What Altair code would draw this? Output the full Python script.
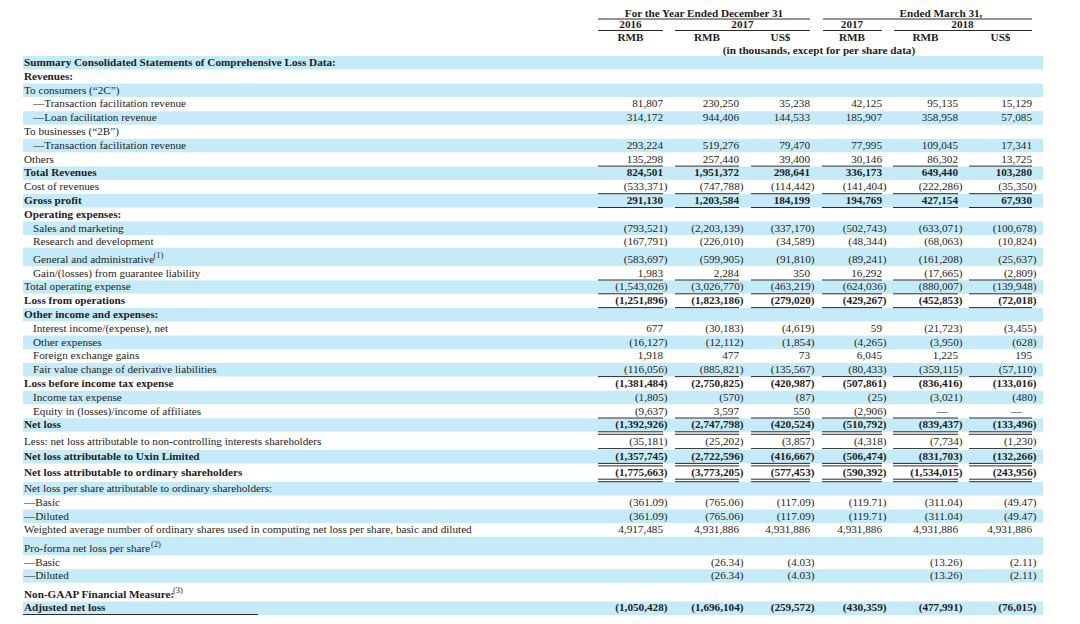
import altair as alt
import pandas as pd

# ---------------- data ----------------
LABELS = [
    "Summary Consolidated Statements of Comprehensive Loss Data:",
    "Revenues:",
    "To consumers (\u201c2C\u201d)",
    "\u2014Transaction facilitation revenue",
    "\u2014Loan facilitation revenue",
    "To businesses (\u201c2B\u201d)",
    "\u2014Transaction facilitation revenue",
    "Others",
    "Total Revenues",
    "Cost of revenues",
    "Gross profit",
    "Operating expenses:",
    "Sales and marketing",
    "Research and development",
    "General and administrative",
    "Gain/(losses) from guarantee liability",
    "Total operating expense",
    "Loss from operations",
    "Other income and expenses:",
    "Interest income/(expense), net",
    "Other expenses",
    "Foreign exchange gains",
    "Fair value change of derivative liabilities",
    "Loss before income tax expense",
    "Income tax expense",
    "Equity in (losses)/income of affiliates",
    "Net loss",
    "Less: net loss attributable to non-controlling interests shareholders",
    "Net loss attributable to Uxin Limited",
    "Net loss attributable to ordinary shareholders",
    "Net loss per share attributable to ordinary shareholders:",
    "\u2014Basic",
    "\u2014Diluted",
    "Weighted average number of ordinary shares used in computing net loss per share, basic and diluted",
    "Pro-forma net loss per share",
    "\u2014Basic",
    "\u2014Diluted",
    "Non-GAAP Financial Measure:",
    "Adjusted net loss",
]
# footnote markers attached to labels (1-based row number -> marker)
FOOTNOTES = {15: "(1)", 35: "(2)", 38: "(3)"}

INDENT = [0, 0, 0, 1, 1, 0, 1, 0, 0, 0, 0, 0, 1, 1, 1, 1, 0, 0, 0, 1, 1, 1, 1, 0, 1, 1, 0,
          0, 0, 0, 0, 0, 0, 0, 0, 0, 0, 0, 0]
BOLD_LABEL = [1, 1, 0, 0, 0, 0, 0, 0, 1, 0, 1, 1, 0, 0, 0, 0, 0, 1, 1, 0, 0, 0, 0, 1, 0, 0, 1,
              0, 1, 1, 0, 0, 0, 0, 0, 0, 0, 1, 1]
BOLD_NUM = [0, 0, 0, 0, 0, 0, 0, 0, 1, 0, 1, 0, 0, 0, 0, 0, 0, 1, 0, 0, 0, 0, 0, 1, 0, 0, 1,
            0, 1, 1, 0, 0, 0, 0, 0, 0, 0, 0, 1]

N = None
COL_2016_RMB = [N, N, N, 81807, 314172, N, 293224, 135298, 824501, -533371, 291130, N,
                -793521, -167791, -583697, 1983, -1543026, -1251896, N, 677, -16127, 1918,
                -116056, -1381484, -1805, -9637, -1392926, -35181, -1357745, -1775663, N,
                -361.09, -361.09, 4917485, N, N, N, N, -1050428]
COL_2017_RMB = [N, N, N, 230250, 944406, N, 519276, 257440, 1951372, -747788, 1203584, N,
                -2203139, -226010, -599905, 2284, -3026770, -1823186, N, -30183, -12112, 477,
                -885821, -2750825, -570, 3597, -2747798, -25202, -2722596, -3773205, N,
                -765.06, -765.06, 4931886, N, -26.34, -26.34, N, -1696104]
COL_2017_USD = [N, N, N, 35238, 144533, N, 79470, 39400, 298641, -114442, 184199, N,
                -337170, -34589, -91810, 350, -463219, -279020, N, -4619, -1854, 73,
                -135567, -420987, -87, 550, -420524, -3857, -416667, -577453, N,
                -117.09, -117.09, 4931886, N, -4.03, -4.03, N, -259572]
COL_MAR2017_RMB = [N, N, N, 42125, 185907, N, 77995, 30146, 336173, -141404, 194769, N,
                   -502743, -48344, -89241, 16292, -624036, -429267, N, 59, -4265, 6045,
                   -80433, -507861, -25, -2906, -510792, -4318, -506474, -590392, N,
                   -119.71, -119.71, 4931886, N, N, N, N, -430359]
COL_MAR2018_RMB = [N, N, N, 95135, 358958, N, 109045, 86302, 649440, -222286, 427154, N,
                   -633071, -68063, -161208, -17665, -880007, -452853, N, -21723, -3950, 1225,
                   -359115, -836416, -3021, 0, -839437, -7734, -831703, -1534015, N,
                   -311.04, -311.04, 4931886, N, -13.26, -13.26, N, -477991]
COL_MAR2018_USD = [N, N, N, 15129, 57085, N, 17341, 13725, 103280, -35350, 67930, N,
                   -100678, -10824, -25637, -2809, -139948, -72018, N, -3455, -628, 195,
                   -57110, -133016, -480, 0, -133496, -1230, -132266, -243956, N,
                   -49.47, -49.47, 4931886, N, -2.11, -2.11, N, -76015]
COLUMNS = [COL_2016_RMB, COL_2017_RMB, COL_2017_USD, COL_MAR2017_RMB, COL_MAR2018_RMB, COL_MAR2018_USD]

PERIOD_HEAD = ["For the Year Ended December 31", "Ended March 31,"]
YEAR_HEAD = ["2016", "2017", "2017", "2018"]
CURRENCY_HEAD = ["RMB", "RMB", "US$", "RMB", "RMB", "US$"]
UNIT_NOTE = "(in thousands, except for per share data)"

# rows with a rule under the figures: 1 = single, 2 = double (1-based row numbers)
RULE_UNDER = {8: 1, 10: 1, 11: 1, 16: 1, 17: 1, 18: 1, 23: 1, 26: 1, 27: 2, 28: 1, 29: 2, 30: 2}

# ---------------- layout ----------------
W, H = 1064, 608
M = 8
COL_LEFT = [598, 675, 751, 822, 893, 969]
COL_RIGHT = [663, 739, 810, 882, 958, 1032]
ROW0, STEP = 63, 13.8
EXTRA = {15: 3.5, 28: 3, 29: 1, 30: 2, 31: 2.5, 35: 4.5, 38: 4.5}
FOOTNOTE_X = {15: 153.5, 35: 151, 38: 173}
BAND = "#c6ebf8"
INK = "#1e1e1e"
FONT = "Liberation Serif"
FS = 11.2

ys = []
acc = 0.0
for i in range(len(LABELS)):
    acc += EXTRA.get(i + 1, 0)
    ys.append(ROW0 + STEP * i + acc)


def fmt(v):
    if v is None:
        return None
    if v == 0:
        return "\u2014"
    s = f"{abs(v):,.2f}" if isinstance(v, float) else f"{abs(v):,}"
    return f"({s})" if v < 0 else s


bands, labels, nums, rules, sups = [], [], [], [], []
for i, lab in enumerate(LABELS):
    y = ys[i]
    r = i + 1
    if r % 2 == 1:
        top = y - 7 - (5 if r in FOOTNOTES else 0)
        bands.append({"x": 23, "x2": 1043, "y": top, "y2": y + 6.5})
    labels.append({"x": 24 + 9 * INDENT[i], "y": y, "text": lab, "bold": BOLD_LABEL[i]})
    if r in FOOTNOTES:
        sups.append({"x": FOOTNOTE_X[r], "y": y - 5, "text": FOOTNOTES[r]})
    for c, col in enumerate(COLUMNS):
        t = fmt(col[i])
        if t is None:
            continue
        dx = 4.5 if t.endswith(")") else (-10 if t == "\u2014" else 0)
        nums.append({"x": COL_RIGHT[c] + dx, "y": y, "text": t, "bold": BOLD_NUM[i]})
    if r in RULE_UNDER:
        offs = [6.5] if RULE_UNDER[r] == 1 else [6.5, 9.0]
        for o in offs:
            for c in range(6):
                rules.append({"x": COL_LEFT[c], "x2": COL_RIGHT[c], "y": y + o})

# header
centers = [(l + r) / 2 for l, r in zip(COL_LEFT, COL_RIGHT)]
head = [
    {"x": 704, "y": 13.5, "text": PERIOD_HEAD[0]},
    {"x": 941, "y": 13.5, "text": PERIOD_HEAD[1]},
    {"x": centers[0], "y": 25, "text": YEAR_HEAD[0]},
    {"x": (COL_LEFT[1] + COL_RIGHT[2]) / 2, "y": 25, "text": YEAR_HEAD[1]},
    {"x": centers[3], "y": 25, "text": YEAR_HEAD[2]},
    {"x": (COL_LEFT[4] + COL_RIGHT[5]) / 2, "y": 25, "text": YEAR_HEAD[3]},
    {"x": 819, "y": 50.5, "text": UNIT_NOTE},
]
for c, cur in enumerate(CURRENCY_HEAD):
    head.append({"x": centers[c], "y": 38, "text": cur})
head_rules = [
    {"x": 598, "x2": 810, "y": 19},
    {"x": 823, "x2": 1032, "y": 19},
    {"x": 598, "x2": 663, "y": 30.5},
    {"x": 675, "x2": 810, "y": 30.5},
    {"x": 823, "x2": 882, "y": 30.5},
    {"x": 894, "x2": 1032, "y": 30.5},
    {"x": 23, "x2": 258, "y": 614.5},
]

XS = alt.Scale(domain=[M, M + W], nice=False, zero=False)
YS = alt.Scale(domain=[M, M + H], nice=False, zero=False, reverse=True)


def enc(extra=None):
    d = dict(x=alt.X("x:Q", scale=XS, axis=None), y=alt.Y("y:Q", scale=YS, axis=None))
    if extra:
        d.update(extra)
    return d


band_layer = alt.Chart(pd.DataFrame(bands)).mark_rect(color=BAND).encode(
    **enc({"x2": "x2:Q", "y2": "y2:Q"}))

lab_df = pd.DataFrame(labels)
lab_norm = alt.Chart(lab_df[lab_df.bold == 0]).mark_text(
    align="left", baseline="middle", font=FONT, fontSize=FS, color=INK).encode(**enc({"text": "text:N"}))
lab_bold = alt.Chart(lab_df[lab_df.bold == 1]).mark_text(
    align="left", baseline="middle", font=FONT, fontSize=FS, fontWeight="bold", color=INK).encode(
    **enc({"text": "text:N"}))
sup_layer = alt.Chart(pd.DataFrame(sups)).mark_text(
    align="left", baseline="middle", font=FONT, fontSize=8.5, color=INK).encode(**enc({"text": "text:N"}))

num_df = pd.DataFrame(nums)
num_norm = alt.Chart(num_df[num_df.bold == 0]).mark_text(
    align="right", baseline="middle", font=FONT, fontSize=FS, color=INK).encode(**enc({"text": "text:N"}))
num_bold = alt.Chart(num_df[num_df.bold == 1]).mark_text(
    align="right", baseline="middle", font=FONT, fontSize=FS, fontWeight="bold", color=INK).encode(
    **enc({"text": "text:N"}))

rule_layer = alt.Chart(pd.DataFrame(rules + head_rules)).mark_rule(
    color="#2a2a2a", strokeWidth=1).encode(**enc({"x2": "x2:Q"}))

head_layer = alt.Chart(pd.DataFrame(head)).mark_text(
    align="center", baseline="middle", font=FONT, fontSize=FS, fontWeight="bold", color=INK).encode(
    **enc({"text": "text:N"}))

chart = alt.layer(band_layer, rule_layer, lab_norm, lab_bold, sup_layer, num_norm, num_bold,
                  head_layer).properties(
    width=W, height=H, padding=0, autosize=alt.AutoSizeParams(type="none"), background="white"
).configure_view(stroke=None)

chart.save("out.html", embed_options={"renderer": "svg", "actions": False})
